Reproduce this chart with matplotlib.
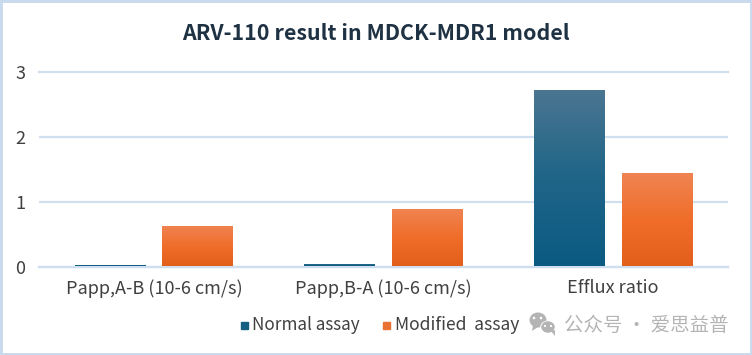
import numpy as np
import matplotlib.pyplot as plt
from matplotlib.colors import LinearSegmentedColormap
from matplotlib.patches import Ellipse, Polygon, Rectangle

plt.rcParams['font.family'] = ['Noto Sans CJK SC', 'DejaVu Sans']

categories = ['Papp,A-B (10-6 cm/s)', 'Papp,B-A (10-6 cm/s)', 'Efflux ratio']
normal_assay = [0.03, 0.04, 2.72]
modified_assay = [0.63, 0.89, 1.44]
yticks = [0, 1, 2, 3]

W, H = 752, 355
fig = plt.figure(figsize=(W/100, H/100), dpi=100)
fig.patch.set_facecolor('white')
ax = fig.add_axes([39/W, 1-266.5/H, (728-39)/W, (266.5-72)/H])

blue_cm = LinearSegmentedColormap.from_list('b', ['#4b7691', '#1f6588', '#0b5a82'])
orange_cm = LinearSegmentedColormap.from_list('o', ['#ef8453', '#f06e2a', '#e25f1b'])

x = np.arange(len(categories))
bw = 0.308
off = 0.191
b1 = ax.bar(x-off, normal_assay, bw, color='#156082', zorder=2)
b2 = ax.bar(x+off, modified_assay, bw, color='#e97132', zorder=2)

# gradient on every bar
grad = np.linspace(0, 1, 256).reshape(-1, 1)
for bars, cm in ((b1, blue_cm), (b2, orange_cm)):
    for b in bars:
        bx, by, bwid, bh = b.get_x(), b.get_y(), b.get_width(), b.get_height()
        im = ax.imshow(grad, cmap=cm, aspect='auto', zorder=3,
                       extent=(bx, bx+bwid, by, by+bh), origin='upper')
        im.set_clip_path(b)
ax.set_xlim(-0.5, 2.5)
ax.set_ylim(0, 3)

ax.set_yticks(yticks)
ax.set_xticks(x)
ax.set_xticklabels(categories)
ax.tick_params(axis='x', length=0, labelsize=13, labelcolor='#404040', pad=9)
ax.tick_params(axis='y', length=0, labelsize=13, labelcolor='#404040', pad=10)
ax.grid(axis='y', color='#d0dff0', lw=1.6, zorder=1)
ax.set_axisbelow(True)
for s in ax.spines.values():
    s.set_visible(False)
ax.spines['bottom'].set_visible(True)
ax.spines['bottom'].set_color('#d0dff0')
ax.spines['bottom'].set_linewidth(1.6)
ax.get_ygridlines()[0].set_clip_on(False)
ax.get_ygridlines()[-1].set_clip_on(False)

fig.text(376/W, 1-33.5/H, 'ARV-110 result in MDCK-MDR1 model', ha='center', va='center',
         fontsize=15.4, fontweight='bold', color='#1f3244')

# legend
fig.add_artist(Rectangle((241/W, 1-329/H), 7/W, 7/H, transform=fig.transFigure, color='#156082'))
fig.text(252/W, 1-325.5/H, 'Normal assay', va='center', fontsize=12.3, color='#404040')
fig.add_artist(Rectangle((383/W, 1-329/H), 7/W, 7/H, transform=fig.transFigure, color='#e97132'))
fig.text(395/W, 1-325.5/H, 'Modified  assay', va='center', fontsize=12.6, color='#404040')

# watermark
wm = '#b4b4b4'
def px_ell(cx, cy, w, h, c):
    fig.add_artist(Ellipse((cx/W, 1-cy/H), w/W, h/H, transform=fig.transFigure, color=c, lw=0))
px_ell(538, 320, 17, 15, wm)
px_ell(548, 327, 15.5, 13, 'white')
px_ell(548, 327, 13.5, 11.5, wm)
fig.add_artist(Polygon([(533/W, 1-325/H), (532/W, 1-331/H), (538/W, 1-327/H)],
                       transform=fig.transFigure, color=wm, lw=0))
fig.add_artist(Polygon([(551/W, 1-331/H), (555/W, 1-336/H), (555/W, 1-330/H)],
                       transform=fig.transFigure, color=wm, lw=0))
for cx, cy in ((534, 318), (541, 318)):
    px_ell(cx, cy, 2.6, 2.6, 'white')
for cx, cy in ((545, 326), (551, 326)):
    px_ell(cx, cy, 2.2, 2.2, 'white')
fig.text(564/W, 1-325/H, '公众号 · 爱思益普', va='center', fontsize=14, color=wm)

# outer border
fig.add_artist(Rectangle((0, 0), 1, 1, transform=fig.transFigure, fill=False,
                         edgecolor='#c9daee', lw=3.5))

fig.savefig('out.png', dpi=100)
